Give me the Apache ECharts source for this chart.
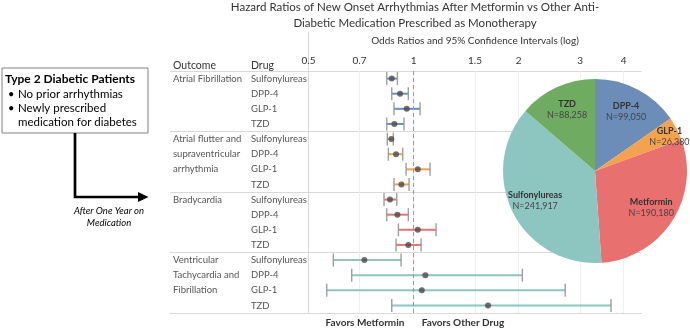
<!DOCTYPE html>
<html>
<head>
<meta charset="utf-8">
<script src="https://cdn.jsdelivr.net/npm/echarts@6/dist/echarts.min.js"></script>
<style>
  html, body { margin: 0; padding: 0; background: #fff; }
  #chart { width: 690px; height: 329px; }
</style>
</head>
<body>
<div id="chart"></div>
<script>
// ---- data ----
var drugs = ['Sulfonylureas', 'DPP-4', 'GLP-1', 'TZD'];
var outcomes = [
  ['Atrial Fibrillation'],
  ['Atrial flutter and', 'supraventricular', 'arrhythmia'],
  ['Bradycardia'],
  ['Ventricular', 'Tachycardia and', 'Fibrillation']
];
// one value per row: outcome group x drug (16 rows, top to bottom)
var hazardRatio = [0.866, 0.915, 0.956, 0.881, 0.864, 0.891, 1.028, 0.923, 0.856, 0.899, 1.028, 0.966, 0.723, 1.081, 1.056, 1.635];
var ciLow = [0.838, 0.866, 0.879, 0.838, 0.841, 0.847, 0.952, 0.879, 0.823, 0.838, 0.905, 0.891, 0.589, 0.665, 0.564, 0.866];
var ciHigh = [0.899, 0.966, 1.044, 0.939, 0.875, 0.931, 1.115, 0.971, 0.895, 0.966, 1.160, 1.051, 0.921, 2.05, 2.72, 3.68];
var tickValues = [0.5, 0.7, 1, 1.5, 2, 3, 4];

var pieNames = ['DPP-4', 'GLP-1', 'Metformin', 'Sulfonylureas', 'TZD'];
var pieCounts = [99050, 26380, 190180, 241917, 88258];

var groupColors = ['#6b8db7', '#f3a152', '#e8716f', '#8dc6c0'];
var pieColors = ['#6b8db7', '#f4a24e', '#e8706f', '#8dc6c0', '#70ab62'];
var FONT = 'Lato, "Open Sans", sans-serif';

// ---- layout ----
var plotLeft = 308.5, plotTop = 71, plotWidth = 333, plotHeight = 242;
var tableLeft = 170;

var rowLabels = [], whiskers = [], points = [];
outcomes.forEach(function (lines, g) {
  drugs.forEach(function (drug, d) {
    var i = g * drugs.length + d;
    var o = lines[d] || '\u00a0';
    rowLabels.push('{o|' + o + '}{d|' + drug + '}');
    whiskers.push([ciLow[i], ciHigh[i], i, g]);
    points.push([hazardRatio[i], i]);
  });
});

function renderWhisker(params, api) {
  var row = api.value(2);
  var a = api.coord([api.value(0), row]);
  var b = api.coord([api.value(1), row]);
  var half = api.size([1, 1])[1] * 0.43;
  var color = groupColors[api.value(3)];
  var cap = { stroke: '#9e9e9e', lineWidth: 1.4 };
  return {
    type: 'group',
    children: [
      { type: 'line', shape: { x1: a[0], y1: a[1], x2: b[0], y2: b[1] }, style: { stroke: color, lineWidth: 2 } },
      { type: 'line', shape: { x1: a[0], y1: a[1] - half, x2: a[0], y2: a[1] + half }, style: cap },
      { type: 'line', shape: { x1: b[0], y1: b[1] - half, x2: b[0], y2: b[1] + half }, style: cap }
    ]
  };
}

var pieData = pieNames.map(function (n, i) {
  return { name: n, value: pieCounts[i], itemStyle: { color: pieColors[i] } };
});
var pieLabelData = pieNames.map(function (n, i) {
  var item = { name: n, value: pieCounts[i] };
  if (n === 'GLP-1') item.label = { padding: [0, 0, 8, 30] };
  return item;
});

var chart = echarts.init(document.getElementById('chart'));
chart.setOption({
  animation: false,
  textStyle: { fontFamily: FONT },
  grid: [
    { left: plotLeft, top: plotTop, width: plotWidth, height: plotHeight },
    { left: tableLeft, top: plotTop, width: plotLeft + plotWidth - tableLeft, height: plotHeight }
  ],
  xAxis: [
    {
      gridIndex: 0, type: 'log', logBase: 10, min: 0.5, max: 4.5, position: 'top',
      name: 'Odds Ratios and 95% Confidence Intervals (log)',
      nameLocation: 'middle', nameGap: 25,
      nameTextStyle: { fontFamily: FONT, fontSize: 10, color: '#333' },
      axisLine: { show: false },
      axisTick: { show: false, customValues: tickValues },
      axisLabel: {
        customValues: tickValues, margin: 5, fontSize: 10, color: '#333', fontFamily: FONT,
        formatter: function (v) { return String(+v.toFixed(2)); }
      },
      splitLine: { show: true, lineStyle: { color: '#efefef' } }
    },
    {
      gridIndex: 1, type: 'value', min: 0, max: 1, position: 'bottom',
      axisLine: { show: true, lineStyle: { color: '#d9d9d9' } },
      axisTick: { show: false }, axisLabel: { show: false }, splitLine: { show: false }
    }
  ],
  yAxis: [
    {
      gridIndex: 0, type: 'category', data: rowLabels, inverse: true,
      axisLine: { show: true, lineStyle: { color: '#d9d9d9' } },
      axisTick: { show: false },
      splitLine: { show: false },
      axisLabel: {
        align: 'left', margin: plotLeft - tableLeft - 3, interval: 0,
        rich: {
          o: { width: 78, fontSize: 9.5, color: '#555', fontFamily: FONT },
          d: { fontSize: 9.5, color: '#555', fontFamily: FONT }
        }
      }
    },
    {
      gridIndex: 1, type: 'category', data: rowLabels, inverse: true,
      axisLine: { show: false }, axisTick: { show: false }, axisLabel: { show: false },
      splitLine: {
        show: true, lineStyle: { color: '#d9d9d9' },
        interval: function (index) { return index % drugs.length === 0; }
      }
    }
  ],
  series: [
    {
      type: 'custom', xAxisIndex: 0, yAxisIndex: 0,
      renderItem: renderWhisker, data: whiskers,
      encode: { x: [0, 1], y: 2 }, z: 3
    },
    {
      type: 'scatter', xAxisIndex: 0, yAxisIndex: 0, data: points,
      symbolSize: 6, itemStyle: { color: '#4a4a4a' }, z: 4,
      markLine: {
        silent: true, symbol: 'none', label: { show: false },
        lineStyle: { color: '#9a9a9a', type: [4, 3], width: 1 },
        data: [{ xAxis: 1 }]
      }
    },
    {
      type: 'pie', center: [595, 171], radius: 92, startAngle: 90, clockwise: true,
      silent: true, label: { show: false }, labelLine: { show: false },
      data: pieData, z: 5
    },
    {
      type: 'pie', center: [595, 171], radius: [36, 92], startAngle: 90, clockwise: true,
      silent: true, itemStyle: { color: 'rgba(0,0,0,0)' }, labelLine: { show: false },
      label: {
        show: true, position: 'inside', lineHeight: 11,
        formatter: function (p) { return '{n|' + p.name + '}\n{v|N=' + p.value.toLocaleString('en-US') + '}'; },
        rich: {
          n: { fontWeight: 'bold', fontSize: 9, color: '#333', fontFamily: FONT, lineHeight: 11 },
          v: { fontSize: 9, color: '#444', fontFamily: FONT, lineHeight: 11 }
        }
      },
      data: pieLabelData, z: 6
    }
  ],
  graphic: [
    {
      type: 'text',
      style: {
        text: 'Hazard Ratios of New Onset Arrhythmias After Metformin vs Other Anti-\nDiabetic Medication Prescribed as Monotherapy',
        x: 415, y: 15, align: 'center', verticalAlign: 'middle', lineHeight: 16,
        font: '11.5px ' + FONT, fill: '#333'
      }
    },
    { type: 'line', shape: { x1: plotLeft, y1: 32, x2: plotLeft, y2: plotTop }, style: { stroke: '#d9d9d9' } },
    { type: 'text', style: { text: 'Outcome', x: 173, y: 66, verticalAlign: 'middle', font: '10.5px ' + FONT, fill: '#333' } },
    { type: 'text', style: { text: 'Drug', x: 251, y: 66, verticalAlign: 'middle', font: '10.5px ' + FONT, fill: '#333' } },
    { type: 'text', style: { text: 'Favors Metformin', x: 365, y: 323, align: 'center', verticalAlign: 'middle', font: 'bold 10px ' + FONT, fill: '#333' } },
    { type: 'text', style: { text: 'Favors Other Drug', x: 463, y: 323, align: 'center', verticalAlign: 'middle', font: 'bold 10px ' + FONT, fill: '#333' } },
    // patient box + arrow
    { type: 'rect', shape: { x: 2, y: 68, width: 146, height: 65 }, style: { fill: '#fff', stroke: '#808080', lineWidth: 1 } },
    { type: 'text', style: { text: 'Type 2 Diabetic Patients', x: 5, y: 79, verticalAlign: 'middle', font: 'bold 12px ' + FONT, fill: '#000' } },
    { type: 'text', style: { text: '\u2022', x: 8, y: 94, verticalAlign: 'middle', font: '11px ' + FONT, fill: '#000' } },
    { type: 'text', style: { text: 'No prior arrhythmias', x: 18, y: 94, verticalAlign: 'middle', font: '11.5px ' + FONT, fill: '#000' } },
    { type: 'text', style: { text: '\u2022', x: 8, y: 108, verticalAlign: 'middle', font: '11px ' + FONT, fill: '#000' } },
    { type: 'text', style: { text: 'Newly prescribed', x: 18, y: 108, verticalAlign: 'middle', font: '11.5px ' + FONT, fill: '#000' } },
    { type: 'text', style: { text: 'medication for diabetes', x: 18, y: 122, verticalAlign: 'middle', font: '11.5px ' + FONT, fill: '#000' } },
    { type: 'polyline', shape: { points: [[75, 133], [75, 197], [139, 197]] }, style: { stroke: '#000', lineWidth: 2.7, fill: null } },
    { type: 'polygon', shape: { points: [[138, 192], [148.5, 197], [138, 202]] }, style: { fill: '#000' } },
    { type: 'text', style: { text: 'After One Year on\nMedication', x: 109, y: 217, align: 'center', verticalAlign: 'middle', lineHeight: 12, font: 'italic 9.5px ' + FONT, fill: '#000' } }
  ]
});
</script>
</body>
</html>
